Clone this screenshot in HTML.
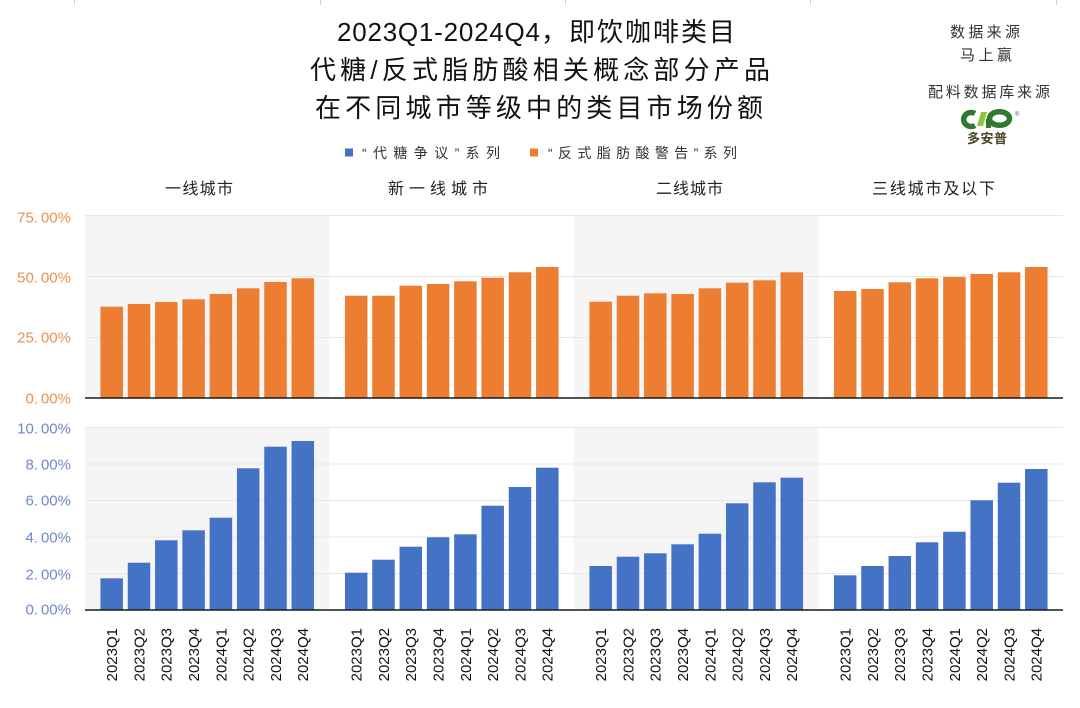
<!DOCTYPE html>
<html>
<head>
<meta charset="utf-8">
<style>
  html,body{margin:0;padding:0;background:#fff;}
  svg{display:block;}
  .cjk{font-family:"Liberation Sans","Noto Sans CJK SC",sans-serif;}
  .ax{font-family:"Liberation Sans","Noto Sans CJK SC",sans-serif;font-size:15px;}
</style>
</head>
<body>
<svg width="1080" height="708" viewBox="0 0 1080 708" xmlns="http://www.w3.org/2000/svg">
  <rect x="0" y="0" width="1080" height="708" fill="#ffffff"/>

  <!-- faint top ticks -->
  <g stroke="#cfcfcf" stroke-width="1">
    <line x1="74.5" y1="0" x2="74.5" y2="5"/>
    <line x1="320.5" y1="0" x2="320.5" y2="5"/>
    <line x1="565.5" y1="0" x2="565.5" y2="5"/>
    <line x1="810.5" y1="0" x2="810.5" y2="5"/>
    <line x1="1056.5" y1="0" x2="1056.5" y2="5"/>
  </g>

  <!-- Title -->
  <g class="cjk" font-size="26" fill="#111">
    <text x="337" y="41" textLength="203" lengthAdjust="spacing">2023Q1-2024Q4</text>
    <text x="541" y="41" textLength="194" lengthAdjust="spacing">，即饮咖啡类目</text>
    <text x="310" y="79" textLength="460" lengthAdjust="spacing">代糖/反式脂肪酸相关概念部分产品</text>
    <text x="315" y="117" textLength="448" lengthAdjust="spacing">在不同城市等级中的类目市场份额</text>
  </g>

  <!-- Legend -->
  <rect x="345" y="148.5" width="8" height="8" fill="#4472C4"/>
  <text class="cjk" x="362" y="158" font-size="14" fill="#333" textLength="138" lengthAdjust="spacing">“代糖争议”系列</text>
  <rect x="530" y="148.5" width="8" height="8" fill="#ED7D31"/>
  <text class="cjk" x="548" y="158" font-size="14" fill="#333" textLength="189" lengthAdjust="spacing">“反式脂肪酸警告”系列</text>

  <!-- Source info top right -->
  <g class="cjk" font-size="15" fill="#333">
    <text x="950" y="37" textLength="70" lengthAdjust="spacing">数据来源</text>
    <text x="960" y="60" textLength="52" lengthAdjust="spacing">马上赢</text>
    <text x="928" y="97" textLength="122" lengthAdjust="spacing">配料数据库来源</text>
  </g>
  <!-- logo -->
  <g>
    <path d="M975,113.5 A7.5,7 0 1,0 975,125.5" stroke="#2f7a32" stroke-width="5.5" fill="none"/>
    <polygon points="977,126 981,112 987,112 983,126" fill="#8cc63f"/>
    <ellipse cx="999.5" cy="118.5" rx="10" ry="6.8" stroke="#2f7a32" stroke-width="5.5" fill="none"/>
    <rect x="986" y="119" width="5" height="9" fill="#2f7a32"/>
    <text x="1015" y="116" font-size="6" fill="#555" font-family="Liberation Sans, sans-serif">®</text>
    <text class="cjk" x="967" y="143" font-size="13" font-weight="bold" fill="#4a4224" textLength="40" lengthAdjust="spacing">多安普</text>
  </g>

  <!-- Group titles -->
  <g class="cjk" font-size="16" fill="#222">
    <text x="165" y="194" textLength="68" lengthAdjust="spacing">一线城市</text>
    <text x="388" y="194" textLength="100" lengthAdjust="spacing">新一线城市</text>
    <text x="656" y="194" textLength="67" lengthAdjust="spacing">二线城市</text>
    <text x="872" y="194" textLength="123" lengthAdjust="spacing">三线城市及以下</text>
  </g>

  <!-- Panel backgrounds -->
  <g fill="#f5f5f5">
    <rect x="85" y="215" width="244.5" height="183"/>
    <rect x="574" y="215" width="244.5" height="183"/>
    <rect x="85" y="427" width="244.5" height="183"/>
    <rect x="574" y="427" width="244.5" height="183"/>
  </g>

  <!-- Gridlines -->
  <g stroke="#e8e8e8" stroke-width="1">
    <line x1="85" y1="215.5" x2="1063" y2="215.5"/>
    <line x1="85" y1="276.5" x2="1063" y2="276.5"/>
    <line x1="85" y1="337.5" x2="1063" y2="337.5"/>
    <line x1="85" y1="427.5" x2="1063" y2="427.5"/>
    <line x1="85" y1="464" x2="1063" y2="464"/>
    <line x1="85" y1="500.5" x2="1063" y2="500.5"/>
    <line x1="85" y1="537" x2="1063" y2="537"/>
    <line x1="85" y1="573.5" x2="1063" y2="573.5"/>
  </g>

  <!-- Y axis labels top -->
  <g class="ax" fill="#E8914F" text-anchor="end">
    <text x="71" y="222.5">75.<tspan dx="3">00%</tspan></text>
    <text x="71" y="282.5">50.<tspan dx="3">00%</tspan></text>
    <text x="71" y="342.5">25.<tspan dx="3">00%</tspan></text>
    <text x="71" y="403.5">0.<tspan dx="3">00%</tspan></text>
  </g>
  <!-- Y axis labels bottom -->
  <g class="ax" fill="#6F88C6" text-anchor="end">
    <text x="71" y="433.5">10.<tspan dx="3">00%</tspan></text>
    <text x="71" y="469.5">8.<tspan dx="3">00%</tspan></text>
    <text x="71" y="505.5">6.<tspan dx="3">00%</tspan></text>
    <text x="71" y="542.5">4.<tspan dx="3">00%</tspan></text>
    <text x="71" y="579.5">2.<tspan dx="3">00%</tspan></text>
    <text x="71" y="614.5">0.<tspan dx="3">00%</tspan></text>
  </g>

  <!-- Top bars (orange) -->
  <g fill="#ED7D31">
    <g transform="translate(85,0)">
      <rect x="15.45" y="306.7" width="22.5" height="91.3"/>
      <rect x="42.75" y="304" width="22.5" height="94"/>
      <rect x="70.05" y="302" width="22.5" height="96"/>
      <rect x="97.35" y="299.3" width="22.5" height="98.7"/>
      <rect x="124.65" y="294" width="22.5" height="104"/>
      <rect x="151.95" y="288.3" width="22.5" height="109.7"/>
      <rect x="179.25" y="282" width="22.5" height="116"/>
      <rect x="206.55" y="278.3" width="22.5" height="119.7"/>
    </g>
    <g transform="translate(329.5,0)">
      <rect x="15.45" y="295.7" width="22.5" height="102.3"/>
      <rect x="42.75" y="295.7" width="22.5" height="102.3"/>
      <rect x="70.05" y="285.7" width="22.5" height="112.3"/>
      <rect x="97.35" y="284" width="22.5" height="114"/>
      <rect x="124.65" y="281.3" width="22.5" height="116.7"/>
      <rect x="151.95" y="277.7" width="22.5" height="120.3"/>
      <rect x="179.25" y="272.3" width="22.5" height="125.7"/>
      <rect x="206.55" y="267" width="22.5" height="131"/>
    </g>
    <g transform="translate(574,0)">
      <rect x="15.45" y="301.7" width="22.5" height="96.3"/>
      <rect x="42.75" y="295.7" width="22.5" height="102.3"/>
      <rect x="70.05" y="293.3" width="22.5" height="104.7"/>
      <rect x="97.35" y="294" width="22.5" height="104"/>
      <rect x="124.65" y="288.3" width="22.5" height="109.7"/>
      <rect x="151.95" y="282.7" width="22.5" height="115.3"/>
      <rect x="179.25" y="280.3" width="22.5" height="117.7"/>
      <rect x="206.55" y="272.3" width="22.5" height="125.7"/>
    </g>
    <g transform="translate(818.5,0)">
      <rect x="15.45" y="291" width="22.5" height="107"/>
      <rect x="42.75" y="289" width="22.5" height="109"/>
      <rect x="70.05" y="282.3" width="22.5" height="115.7"/>
      <rect x="97.35" y="278.3" width="22.5" height="119.7"/>
      <rect x="124.65" y="277" width="22.5" height="121"/>
      <rect x="151.95" y="274" width="22.5" height="124"/>
      <rect x="179.25" y="272.3" width="22.5" height="125.7"/>
      <rect x="206.55" y="267" width="22.5" height="131"/>
    </g>
  </g>

  <!-- Bottom bars (blue) -->
  <g fill="#4472C4">
    <g transform="translate(85,0)">
      <rect x="15.45" y="578.3" width="22.5" height="31.7"/>
      <rect x="42.75" y="562.7" width="22.5" height="47.3"/>
      <rect x="70.05" y="540.3" width="22.5" height="69.7"/>
      <rect x="97.35" y="530.3" width="22.5" height="79.7"/>
      <rect x="124.65" y="517.7" width="22.5" height="92.3"/>
      <rect x="151.95" y="468.3" width="22.5" height="141.7"/>
      <rect x="179.25" y="446.7" width="22.5" height="163.3"/>
      <rect x="206.55" y="441" width="22.5" height="169"/>
    </g>
    <g transform="translate(329.5,0)">
      <rect x="15.45" y="572.7" width="22.5" height="37.3"/>
      <rect x="42.75" y="559.7" width="22.5" height="50.3"/>
      <rect x="70.05" y="546.7" width="22.5" height="63.3"/>
      <rect x="97.35" y="537.3" width="22.5" height="72.7"/>
      <rect x="124.65" y="534.3" width="22.5" height="75.7"/>
      <rect x="151.95" y="505.7" width="22.5" height="104.3"/>
      <rect x="179.25" y="487" width="22.5" height="123"/>
      <rect x="206.55" y="467.7" width="22.5" height="142.3"/>
    </g>
    <g transform="translate(574,0)">
      <rect x="15.45" y="566" width="22.5" height="44"/>
      <rect x="42.75" y="556.7" width="22.5" height="53.3"/>
      <rect x="70.05" y="553.3" width="22.5" height="56.7"/>
      <rect x="97.35" y="544.3" width="22.5" height="65.7"/>
      <rect x="124.65" y="533.7" width="22.5" height="76.3"/>
      <rect x="151.95" y="503.3" width="22.5" height="106.7"/>
      <rect x="179.25" y="482.3" width="22.5" height="127.7"/>
      <rect x="206.55" y="477.7" width="22.5" height="132.3"/>
    </g>
    <g transform="translate(818.5,0)">
      <rect x="15.45" y="575.3" width="22.5" height="34.7"/>
      <rect x="42.75" y="566" width="22.5" height="44"/>
      <rect x="70.05" y="556" width="22.5" height="54"/>
      <rect x="97.35" y="542.3" width="22.5" height="67.7"/>
      <rect x="124.65" y="531.7" width="22.5" height="78.3"/>
      <rect x="151.95" y="500.3" width="22.5" height="109.7"/>
      <rect x="179.25" y="482.7" width="22.5" height="127.3"/>
      <rect x="206.55" y="469" width="22.5" height="141"/>
    </g>
  </g>

  <!-- Baselines -->
  <g stroke="#1a1a1a" stroke-width="1.5">
    <line x1="85" y1="398" x2="1063" y2="398"/>
    <line x1="85" y1="610" x2="1063" y2="610"/>
  </g>

  <!-- X axis labels -->
  <g font-family="Liberation Sans, sans-serif" font-size="15" fill="#111" text-anchor="end">
    <g transform="translate(85,0)">
      <text transform="translate(32.1,628) rotate(-90)">2023Q1</text>
      <text transform="translate(59.4,628) rotate(-90)">2023Q2</text>
      <text transform="translate(86.7,628) rotate(-90)">2023Q3</text>
      <text transform="translate(114,628) rotate(-90)">2023Q4</text>
      <text transform="translate(141.3,628) rotate(-90)">2024Q1</text>
      <text transform="translate(168.6,628) rotate(-90)">2024Q2</text>
      <text transform="translate(195.9,628) rotate(-90)">2024Q3</text>
      <text transform="translate(223.2,628) rotate(-90)">2024Q4</text>
    </g>
    <g transform="translate(329.5,0)">
      <text transform="translate(32.1,628) rotate(-90)">2023Q1</text>
      <text transform="translate(59.4,628) rotate(-90)">2023Q2</text>
      <text transform="translate(86.7,628) rotate(-90)">2023Q3</text>
      <text transform="translate(114,628) rotate(-90)">2023Q4</text>
      <text transform="translate(141.3,628) rotate(-90)">2024Q1</text>
      <text transform="translate(168.6,628) rotate(-90)">2024Q2</text>
      <text transform="translate(195.9,628) rotate(-90)">2024Q3</text>
      <text transform="translate(223.2,628) rotate(-90)">2024Q4</text>
    </g>
    <g transform="translate(574,0)">
      <text transform="translate(32.1,628) rotate(-90)">2023Q1</text>
      <text transform="translate(59.4,628) rotate(-90)">2023Q2</text>
      <text transform="translate(86.7,628) rotate(-90)">2023Q3</text>
      <text transform="translate(114,628) rotate(-90)">2023Q4</text>
      <text transform="translate(141.3,628) rotate(-90)">2024Q1</text>
      <text transform="translate(168.6,628) rotate(-90)">2024Q2</text>
      <text transform="translate(195.9,628) rotate(-90)">2024Q3</text>
      <text transform="translate(223.2,628) rotate(-90)">2024Q4</text>
    </g>
    <g transform="translate(818.5,0)">
      <text transform="translate(32.1,628) rotate(-90)">2023Q1</text>
      <text transform="translate(59.4,628) rotate(-90)">2023Q2</text>
      <text transform="translate(86.7,628) rotate(-90)">2023Q3</text>
      <text transform="translate(114,628) rotate(-90)">2023Q4</text>
      <text transform="translate(141.3,628) rotate(-90)">2024Q1</text>
      <text transform="translate(168.6,628) rotate(-90)">2024Q2</text>
      <text transform="translate(195.9,628) rotate(-90)">2024Q3</text>
      <text transform="translate(223.2,628) rotate(-90)">2024Q4</text>
    </g>
  </g>
</svg>
</body>
</html>
